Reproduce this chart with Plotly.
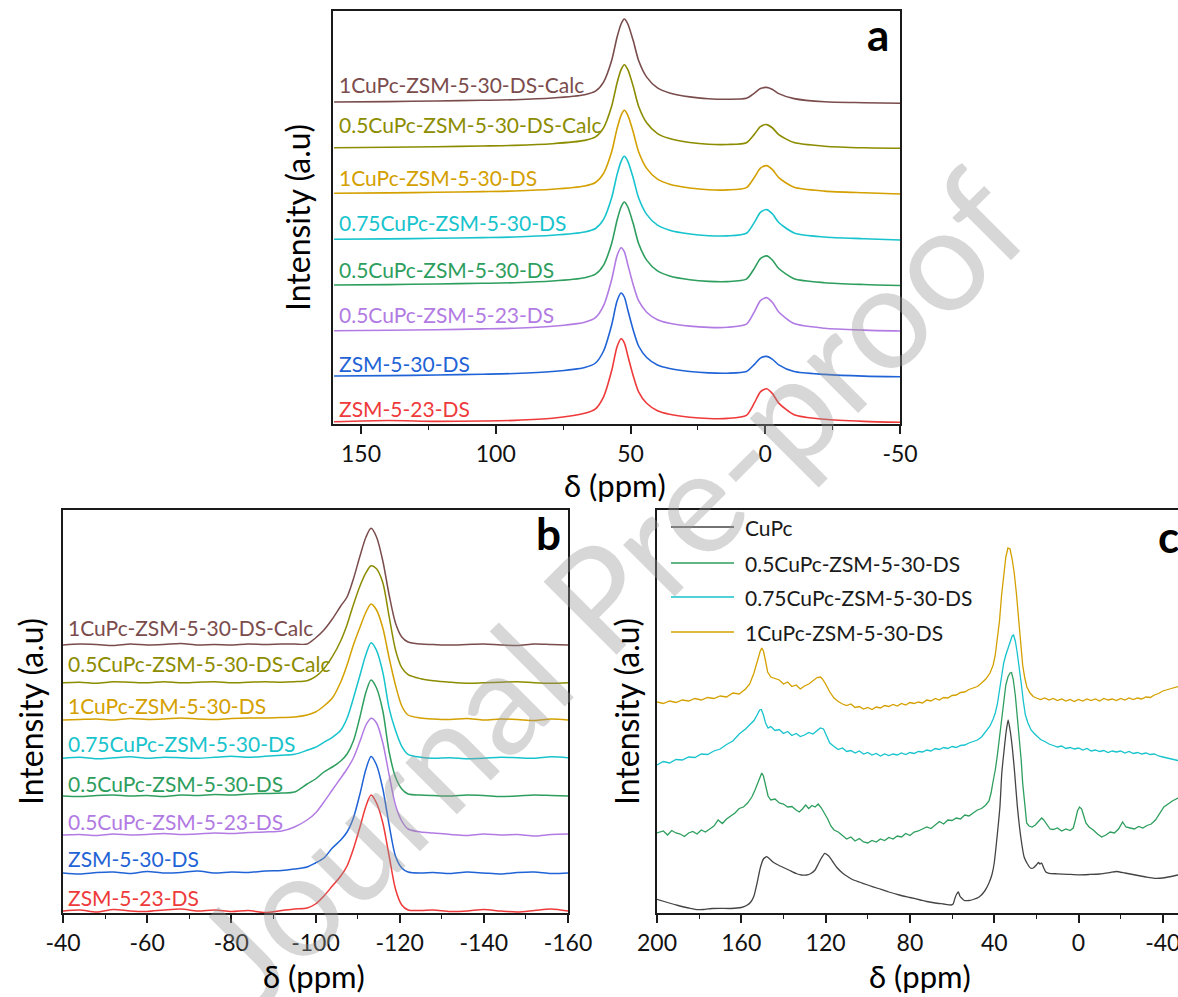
import plotly.graph_objects as go

W, H = 1178, 997
FONT = "Lato, 'Open Sans', sans-serif"

# ---------------- Panel a : 27Al-like spectra (ppm) ----------------
XA = [160, 140, 122, 105, 93, 79, 67, 63, 60, 57, 55, 53.5, 52.3, 51, 49, 47, 44, 40, 35.5,
      28, 21, 14, 7, 4, 1.8, -0.5, -2.7, -5, -10.7, -22, -36.6, -50]
A_RED = [2.2, 3.5, 2.6, 3, 3.6, 5.7, 10.7, 15.2, 27.2, 53.2, 77.2, 85.2, 81.2, 68.2, 48.2, 32.2, 20.7,
         13.2, 9.7, 6.8, 5.5, 5.6, 8.7, 21.3, 32.2, 35.3, 30.4, 20.9, 9.3, 4.7, 2.6, 1.7]
A_BLUE = [48, 48.4, 49, 49.8, 50.5, 52.5, 56.5, 61, 73, 99, 123, 131, 127, 114, 94, 78, 66.5, 59, 55.5,
          52.5, 51.1, 50.8, 52.5, 59.7, 65.9, 67.6, 64.7, 59.2, 52.4, 49.6, 47.9, 47.3]
A_PURPLE = [93.3, 93.7, 94.3, 95.1, 95.8, 97.8, 101.8, 106.3, 118.3, 144.3, 168.3, 176.3, 172.3, 159.3,
            139.3, 123.3, 111.8, 104.3, 100.8, 97.9, 96.6, 96.7, 99.8, 112.4, 123.3, 126.4, 121.5, 112,
            100.4, 95.8, 93.9, 93]
A_GREEN = [139, 139.4, 140, 140.7, 141.3, 143, 146.3, 149.8, 158.9, 180.5, 203.7, 217, 222, 217, 200.4,
           180.5, 163.9, 153.1, 148.1, 144.3, 142.6, 142.4, 144.9, 155.9, 165.4, 168.1, 163.8, 155.5,
           145.3, 141.3, 139.5, 138.5]
A_CYAN = [184.7, 185.1, 185.7, 186.4, 187, 188.7, 192, 195.5, 204.6, 226.2, 249.4, 262.7, 267.7, 262.7,
          246.1, 226.2, 209.6, 198.8, 193.8, 190, 188.3, 188.1, 190.7, 201.9, 211.6, 214.4, 210, 201.5,
          191.1, 187, 185.3, 184]
A_GOLD = [230.7, 231.1, 231.7, 232.4, 233, 234.7, 238, 241.5, 250.6, 272.2, 295.4, 308.7, 313.7, 308.7,
          292.1, 272.2, 255.6, 244.8, 239.8, 236, 234.2, 234.1, 236.4, 246.8, 255.8, 258.4, 254.3, 246.4,
          236.7, 232.9, 231.2, 230]
A_OLIVE = [276.3, 276.7, 277.3, 278, 278.6, 280.3, 283.6, 287.1, 296.2, 317.8, 341, 354.3, 359.3, 354.3,
           337.7, 317.8, 301.2, 290.4, 285.4, 281.5, 279.7, 279.5, 281.3, 289.9, 297.3, 299.4, 296, 289.4,
           281.4, 277.8, 276.2, 275.7]
A_BROWN = [322, 322.4, 323, 323.7, 324.3, 326, 329.3, 332.8, 341.9, 363.5, 386.7, 400, 405, 400, 383.4,
           363.5, 346.9, 336.1, 331.1, 327.1, 325.3, 324.8, 325.7, 330.9, 335.4, 336.6, 334.5, 330.4,
           325.4, 322.2, 321.3, 320.7]

# ---------------- Panel b : 29Si-like spectra (relative + stack offset) ----------------
XB = [-40, -44, -48, -52, -56, -60, -64, -68, -72, -76, -80, -84, -88, -92, -95,
      -98, -100, -102, -104, -106, -107.5, -109, -110.5, -112, -113.2, -114.5, -116, -117.5, -119, -120.5, -122,
      -125, -128, -132, -136, -140, -144, -148, -152, -156, -160]
B_RED = [0, 1, -1, 1.5, 0, -0.5, 1, 2, 0, 1, -0.5, 0.5, -1.5, 0.5, 2,
         3, 7, 15, 25, 35, 45, 62, 83, 105, 116, 108, 88, 55, 22, 6, 1,
         0.5, 1, -0.5, 0, 1.5, 0, -1, 0.5, 2, 0]
B_BLUE = [0, -1, 0.5, 1, -0.5, 1.5, 0, 0.5, 2, 0, 1, 0.5, 2, 2.5, 4,
          6, 10, 15, 25, 33, 41, 55, 78, 104, 116.5, 108, 84, 48, 17, 5, 1,
          0, 0.5, -0.5, 1, 0, -1, 0.5, 1, -0.5, 0]
B_PURPLE = [0, 0.5, -0.5, 1, 0, 0.5, 1.5, 0.5, 1, 2, 1.5, 2.5, 3, 4, 8,
            15, 22, 33, 45, 57, 66, 77, 93, 110, 116.7, 112, 92, 60, 30, 14, 6,
            3, 2, 0.5, -0.5, 1, 0, 0.5, -1, 0.5, 1]
B_GREEN = [0, -0.5, 0.5, 1, 0, 0.5, -0.5, 1, 0.5, 1.5, 1, 2, 2.5, 3, 4,
           12, 17, 24, 29, 35, 42, 55, 78, 104, 116, 108, 85, 44, 19, 7, 2,
           1, 0.5, 0, 1, 0.5, -0.5, 0, 1, 0.5, 0]
B_CYAN = [0, 1, -0.5, 0.5, 1.5, 0, 1, 0.5, 0, 1, 2, 1, 2, 3, 4,
          8, 11, 16, 21, 28, 40, 60, 82, 104, 115.6, 108, 86, 50, 28, 12, 4,
          1, 0, 0.5, -0.5, 0, 1, 0.5, 0, 1.5, 0.5]
B_GOLD = [0, 0.5, 1, 0, 1.5, 0.5, 1, 2, 1, 0.5, 1.5, 2, 2, 2.5, 3,
          5, 8, 14, 22, 38, 55, 75, 92, 108, 116, 110, 92, 62, 35, 14, 5,
          2, 1, 0.5, 1.5, 0, 1, 0.5, -0.5, 1, 0]
B_OLIVE = [0, 0.5, -0.5, 1, 0.5, 0, 1, 0, 0.5, 1, 0, 0.5, 1, 0.5, 1,
           2, 6, 14, 26, 42, 58, 78, 96, 110, 117, 114, 100, 66, 33, 15, 8,
           4, 2, 0.5, -0.5, 0, 0.5, 1, 0, -0.5, 0]
B_BROWN = [0, 1, 0.5, -0.5, 1, 0, 0.5, 1.5, 0, 0.5, 0, 1, 0.5, 1, 1,
           1, 7, 15, 26, 39, 48, 66, 88, 108, 116.7, 108, 84, 50, 22, 8, 3,
           1, 0.5, 0, 0.5, 1, 0, -0.5, 1, 0.5, 0]
B_OFFSETS = [2, 40, 78, 117, 154.7, 193, 230.3, 268]

# ---------------- Panel c : 13C-like spectra ----------------
C_CUPC_X = [200, 195, 190, 185, 182, 178, 174, 170, 165, 160, 157.5, 155.5, 154, 152.5, 151, 149.5, 148,
            146.5, 145, 143, 140, 137, 134, 131.5, 129, 127, 125, 123.5, 122, 120.4, 118.5, 116.5, 114.4,
            112, 110, 107.3, 104, 100, 95, 90, 85, 80, 75, 72, 68, 64, 60.5, 59.5, 58.6, 57.8, 57, 56.3,
            55.5, 54.2, 52, 50, 47, 44.5, 42.5, 41, 40, 38.8, 37.3, 36.4, 35.3, 34.3, 33.4, 32.4, 31.3,
            30.3, 29, 27.2, 25.8, 24.2, 22.8, 21.5, 20, 19, 18.3, 17.5, 16.5, 15.5, 14, 10, 5, 0, -5, -10,
            -15, -18, -22, -27, -32, -36, -40, -44, -47.2]
C_CUPC_Y = [13.7, 10.5, 7.5, 5, 3.7, 3.5, 4.5, 4.7, 4.5, 5.5, 7.5, 11, 17, 30, 45, 54, 56.3,
            54, 51, 48.5, 45.5, 42.5, 39.5, 38, 38, 39.5, 43, 49, 55, 59.7, 57, 51, 45,
            40, 37, 33.5, 31, 28, 24.5, 21, 18, 15.5, 13, 11.5, 10, 9, 8, 9, 15, 19, 21, 17,
            15, 12.5, 12.5, 13.5, 16.3, 22, 30, 39, 50, 73, 106, 140, 163, 182, 193, 182, 163,
            140, 106, 73, 56, 49, 45, 45, 48, 50.5, 49, 50, 45, 41, 39.7, 39.2, 38.7, 38.2, 38.5, 39,
            40.5, 41.5, 40, 38, 36, 34.7, 35, 36.5, 38]

C_05_X = [200, 197, 195, 193, 191, 189, 187, 185, 183, 181, 179, 177, 175, 173, 171, 169, 167, 165, 163,
          161, 159, 157, 155, 153.5, 152, 151, 150.3, 149.5, 148.5, 147.3, 146, 144, 142, 140, 138, 136,
          134, 132.5, 131, 129.5, 128, 126.5, 125, 123.5, 122, 120.5, 119, 117.5, 116, 114, 112, 110, 108,
          106, 104, 102, 100, 98, 96, 94, 92, 90, 88, 86, 84, 82, 80, 78, 76, 74, 72, 70, 68, 66, 64, 62,
          60, 58, 56, 54, 52, 50, 48, 46, 44, 42.5, 41.5, 40.5, 39.5, 38.5, 37.5, 36.5, 35.5, 34.5, 33.5,
          32.5, 31.8, 31, 30, 29, 28, 27.2, 26.5, 25.5, 24.6, 23.5, 22, 20.5, 19, 17.5, 16.5, 15, 13.5, 12,
          10, 8, 6, 4, 2.5, 1.5, 0.5, -0.5, -1.5, -2.5, -3.5, -5, -7, -9, -11, -13, -15, -17, -19, -20.9,
          -22.5, -24.5, -26.5, -28.5, -30.5, -32.5, -34.5, -36.5, -38.5, -40.5, -42.5, -44.5, -47.2]
C_05_Y = [80, 82, 78, 82.5, 80, 79, 76.5, 80, 81.5, 79, 83, 81, 84, 87, 93, 89.5, 94, 97, 100,
          104.5, 106, 110, 116, 123, 131, 137, 140, 137, 128, 117, 113, 114, 110, 109, 106, 106.5,
          103, 101, 104, 108, 104.5, 107.5, 106, 109, 105, 100, 94, 87, 83, 81, 77.5, 74, 76,
          72, 74.5, 71, 70, 72.5, 71, 74, 72.5, 75.5, 74, 77, 76, 79.5, 77.5, 81, 82, 84, 86, 84.5, 88,
          91.5, 89, 93, 92.5, 95, 94, 98, 97, 100, 103, 104.5, 108, 112, 120, 132, 143, 158, 175, 195,
          215, 228, 236, 240, 240.5, 234, 218, 196, 172, 153, 130, 106, 90, 87, 86, 88, 91, 95, 93, 88,
          84, 83.5, 85, 82, 84, 82.5, 85, 93, 102, 106, 104, 97, 90, 86, 83, 79, 76, 78, 81, 80, 84, 91,
          86, 85, 84, 86.5, 85, 87.5, 89, 93, 99, 106, 109, 112, 115]

C_075_X = [200, 197, 194, 191, 188, 185, 182, 179, 176, 173, 170, 167, 164, 161, 158, 156, 154, 152.5,
           151.3, 150.5, 149.5, 148.5, 147.3, 146, 144, 142, 140, 138, 136, 134, 132, 130, 128, 126, 124,
           122.5, 121, 119.5, 118, 116, 114, 112, 110, 108, 106, 104, 102, 100, 98, 96, 94, 92, 90, 88, 86,
           84, 82, 80, 78, 76, 74, 72, 70, 68, 66, 64, 62, 60, 58, 56, 54, 52, 50, 48, 46, 44, 42, 40.5,
           39.5, 38.5, 37.5, 36.5, 35.5, 34.5, 33.5, 32.5, 31.5, 30.8, 30, 29.2, 28.2, 27.2, 26.2, 25.2, 24,
           22.5, 21, 19.5, 18, 16, 14, 12, 10, 8, 6, 4, 2, 0, -2, -4, -6, -8, -10, -12, -14, -16, -18, -20,
           -22, -24, -26, -28, -30, -32, -34, -36, -38, -40, -42, -44, -47.2]
C_075_Y = [148, 151.5, 150, 153.5, 153, 156, 155.5, 159, 158.5, 162, 164, 168.5, 172, 179, 184, 188,
           192.5, 198, 203, 203.5, 198, 190, 185, 186.5, 182.5, 183.5, 179.5, 181.5, 177.5, 179.5, 176.5,
           178, 180.5, 179, 182.5, 185, 184, 177, 170, 166.5, 163.5, 165, 161.5, 162.5, 160, 162, 159,
           160.5, 158, 159.5, 157, 159, 157.5, 159, 158, 160, 158.5, 160.5, 159.5, 161.5, 161, 163, 162,
           164.5, 163.5, 165.5, 164.5, 166.5, 165.5, 167.5, 168, 170, 171.5, 173, 176, 181, 187, 194,
           200, 209, 222, 238, 250, 258, 264, 271, 277, 278, 272, 262, 248, 230, 212, 198, 190,
           183, 179.5, 176, 173.5, 171.5, 169, 167.5, 166, 167, 164.5, 165.5, 164, 165, 163, 164.5, 162,
           163, 161.5, 162.5, 160.5, 162, 161, 162, 160, 161.5, 159.5, 160.5, 159, 160, 158.5, 159, 157,
           156, 155, 154.5, 152.5]

C_1_X = [200, 197, 194, 191, 188, 185, 182, 179, 176, 173, 170, 167, 164, 161, 158, 156, 154, 152.5, 151,
         150.3, 149.5, 148.5, 147.5, 146, 144, 142, 140, 138, 136, 134, 132, 130, 128, 126, 124, 122.5, 121.5,
         120, 118, 116, 114, 112, 110, 108, 106, 104, 102, 100, 98, 96, 94, 92, 90, 88, 86, 84, 82, 80, 78,
         76, 74, 72, 70, 68, 66, 64, 62, 60, 58, 56, 54, 52, 50, 48, 46, 44, 42, 40.5, 39.5, 38.5, 37.5,
         36.5, 35.5, 34.5, 33.5, 32.5, 31.5, 30.5, 29.5, 28.5, 27.5, 26.5, 25.5, 24.5, 23, 21.5, 20, 18, 16,
         14, 12, 10, 8, 6, 4, 2, 0, -2, -4, -6, -8, -10, -12, -14, -16, -18, -20, -22, -24, -26, -28, -30,
         -32, -34, -36, -38, -40, -42, -44, -47.2]
C_1_Y = [211, 209.5, 212, 210.5, 213, 212, 214.5, 213, 215.5, 214.5, 217, 216, 220, 219, 224, 229, 240,
         252, 262, 265, 262, 252, 241, 236, 234.5, 233, 229, 231, 226.5, 228, 224, 227, 229, 232, 235.5,
         236, 234, 229, 221, 215, 211.5, 209, 207.5, 209, 205.5, 206.5, 204, 205.5, 203.5, 206, 205,
         207.5, 206.5, 208.5, 207, 209.5, 208, 210.5, 209.5, 211, 210, 213, 212, 214.5, 213, 215.5, 215,
         217.5, 218, 220.5, 221, 223.5, 225, 226.5, 230, 234, 240, 248, 258, 273, 292, 318, 340, 356,
         365, 364, 354, 340, 320, 295, 268, 248, 235, 226, 220, 216.5, 215, 213.5, 215, 213, 214.5,
         212.5, 214, 212, 213.5, 211.5, 213.5, 212, 214, 212.5, 214, 212, 214.5, 213, 214, 212.5, 214.5,
         213, 215, 213.5, 215, 214, 216, 215.5, 218, 219.5, 222, 223, 224.5, 226.5]

# ---------------- text / colours ----------------
NAMES = ["ZSM-5-23-DS", "ZSM-5-30-DS", "0.5CuPc-ZSM-5-23-DS", "0.5CuPc-ZSM-5-30-DS",
         "0.75CuPc-ZSM-5-30-DS", "1CuPc-ZSM-5-30-DS", "0.5CuPc-ZSM-5-30-DS-Calc", "1CuPc-ZSM-5-30-DS-Calc"]
COLORS = ["#ee3a3a", "#1f63d6", "#b27be3", "#2e9e5e", "#17c3cc", "#d4a000", "#8c8c00", "#7a4c4c"]
C_NAMES = ["CuPc", "0.5CuPc-ZSM-5-30-DS", "0.75CuPc-ZSM-5-30-DS", "1CuPc-ZSM-5-30-DS"]
C_COLORS = ["#444444", "#2e9e5e", "#17c3cc", "#d4a000"]

A_TICKS = [150, 100, 50, 0, -50]
B_TICKS = [-40, -60, -80, -100, -120, -140, -160]
C_TICKS = [200, 160, 120, 80, 40, 0, -40]


def px(x):
    return x / W


def py(y):
    return 1 - y / H


fig = go.Figure()

A_SERIES = [A_RED, A_BLUE, A_PURPLE, A_GREEN, A_CYAN, A_GOLD, A_OLIVE, A_BROWN]
for name, col, ys in zip(NAMES, COLORS, A_SERIES):
    fig.add_trace(go.Scatter(x=XA, y=ys, mode="lines", name=name, xaxis="x", yaxis="y",
                             line=dict(color=col, width=1.6, shape="spline", smoothing=0.7),
                             showlegend=False))

B_SERIES = [B_RED, B_BLUE, B_PURPLE, B_GREEN, B_CYAN, B_GOLD, B_OLIVE, B_BROWN]
for name, col, ys, off in zip(NAMES, COLORS, B_SERIES, B_OFFSETS):
    fig.add_trace(go.Scatter(x=XB, y=[v + off for v in ys], mode="lines", name=name, xaxis="x2", yaxis="y2",
                             line=dict(color=col, width=1.5, shape="spline", smoothing=0.8),
                             showlegend=False))

C_SERIES = [(C_CUPC_X, C_CUPC_Y), (C_05_X, C_05_Y), (C_075_X, C_075_Y), (C_1_X, C_1_Y)]
for i, (name, col, (xs, ys)) in enumerate(zip(C_NAMES, C_COLORS, C_SERIES)):
    fig.add_trace(go.Scatter(x=xs, y=ys, mode="lines", name=name, xaxis="x3", yaxis="y3",
                             line=dict(color=col, width=1.3,
                                       shape="spline" if i == 0 else "linear",
                                       smoothing=0.5),
                             showlegend=False))

AX = dict(showgrid=False, zeroline=False, showline=True, linecolor="#1a1a1a", linewidth=1.8,
          ticks="outside", ticklen=8, tickwidth=1.5, tickcolor="#1a1a1a", automargin=False,
          ticklabeloverflow="allow",
          tickfont=dict(family=FONT, size=23, color="#111111"))
AY = dict(showgrid=False, zeroline=False, showline=True, linecolor="#1a1a1a", linewidth=1.8,
          ticks="", showticklabels=False, automargin=False)

fig.update_layout(
    template="none",
    width=W, height=H, autosize=False,
    margin=dict(l=0, r=0, t=0, b=0, pad=0),
    paper_bgcolor="white", plot_bgcolor="white",
    font=dict(family=FONT),
    xaxis=dict(AX, domain=[px(333), px(900)], range=[160.4, -50], anchor="y", mirror=True,
               tickvals=A_TICKS, ticktext=[str(v) for v in A_TICKS],
               minor=dict(tickvals=[125, 75, 25, -25], ticks="outside", ticklen=4, tickwidth=1.2,
                          tickcolor="#1a1a1a")),
    yaxis=dict(AY, domain=[py(424), py(11)], range=[0, 413], anchor="x", mirror=True),
    xaxis2=dict(AX, domain=[px(63), px(568)], range=[-40, -160], anchor="y2", mirror=True,
                tickvals=B_TICKS, ticktext=[str(v) for v in B_TICKS],
                minor=dict(tickvals=[-50, -70, -90, -110, -130, -150], ticks="outside", ticklen=4,
                           tickwidth=1.2, tickcolor="#1a1a1a")),
    yaxis2=dict(AY, domain=[py(913), py(510)], range=[0, 403], anchor="x2", mirror=True),
    xaxis3=dict(AX, domain=[px(657), 1.0], range=[200, -47.2], anchor="y3", mirror=True,
                tickvals=C_TICKS, ticktext=[str(v) for v in C_TICKS],
                minor=dict(tickvals=[180, 140, 100, 60, 20, -20], ticks="outside", ticklen=4,
                           tickwidth=1.2, tickcolor="#1a1a1a")),
    yaxis3=dict(AY, domain=[py(913), py(510)], range=[0, 403], anchor="x3", mirror=False),
)

ann = []
# watermark
ann.append(dict(text="Journal Pre-proof", x=px(607), y=py(585), xref="paper", yref="paper",
                showarrow=False, textangle=-45, xanchor="center", yanchor="middle",
                font=dict(family=FONT, size=144, color="rgba(150,150,150,0.38)")))

# curve labels panel a and b
A_LABEL_Y = [408, 363, 314, 269, 223, 177, 125, 84]
B_LABEL_Y = [897, 858, 821, 783, 743, 705, 663, 627]
for name, col, ya, yb in zip(NAMES, COLORS, A_LABEL_Y, B_LABEL_Y):
    ann.append(dict(text=name, x=px(337), y=py(ya), xref="paper", yref="paper", showarrow=False,
                    xanchor="left", yanchor="middle", font=dict(family=FONT, size=21, color=col)))
    ann.append(dict(text=name, x=px(66), y=py(yb), xref="paper", yref="paper", showarrow=False,
                    xanchor="left", yanchor="middle", font=dict(family=FONT, size=21, color=col)))

# panel letters
for letter, (lx, ly) in zip(["a", "b", "c"], [(878, 34), (548, 533), (1168, 536)]):
    ann.append(dict(text="<b>%s</b>" % letter, x=px(lx), y=py(ly), xref="paper", yref="paper",
                    showarrow=False, xanchor="center", yanchor="middle",
                    font=dict(family=FONT, size=44, color="black")))

# axis titles
for (tx, ty) in [(615, 485), (314, 976), (920, 976)]:
    ann.append(dict(text="δ (ppm)", x=px(tx), y=py(ty), xref="paper", yref="paper", showarrow=False,
                    xanchor="center", yanchor="middle", font=dict(family=FONT, size=31, color="black")))
for (tx, ty) in [(298, 218), (30, 712), (626, 712)]:
    ann.append(dict(text="Intensity (a.u)", x=px(tx), y=py(ty), xref="paper", yref="paper",
                    showarrow=False, textangle=-90, xanchor="center", yanchor="middle",
                    font=dict(family=FONT, size=32, color="black")))

# legend of panel c
LEG_Y = [527, 563, 597, 632]
shapes = []
for name, col, ly in zip(C_NAMES, C_COLORS, LEG_Y):
    shapes.append(dict(type="line", xref="paper", yref="paper", x0=px(671), x1=px(734),
                       y0=py(ly), y1=py(ly), line=dict(color=col, width=1.5)))
    ann.append(dict(text=name, x=px(743), y=py(ly), xref="paper", yref="paper", showarrow=False,
                    xanchor="left", yanchor="middle", font=dict(family=FONT, size=21, color="#1a1a1a")))

fig.update_layout(annotations=ann, shapes=shapes)
fig.write_html("out.html")
